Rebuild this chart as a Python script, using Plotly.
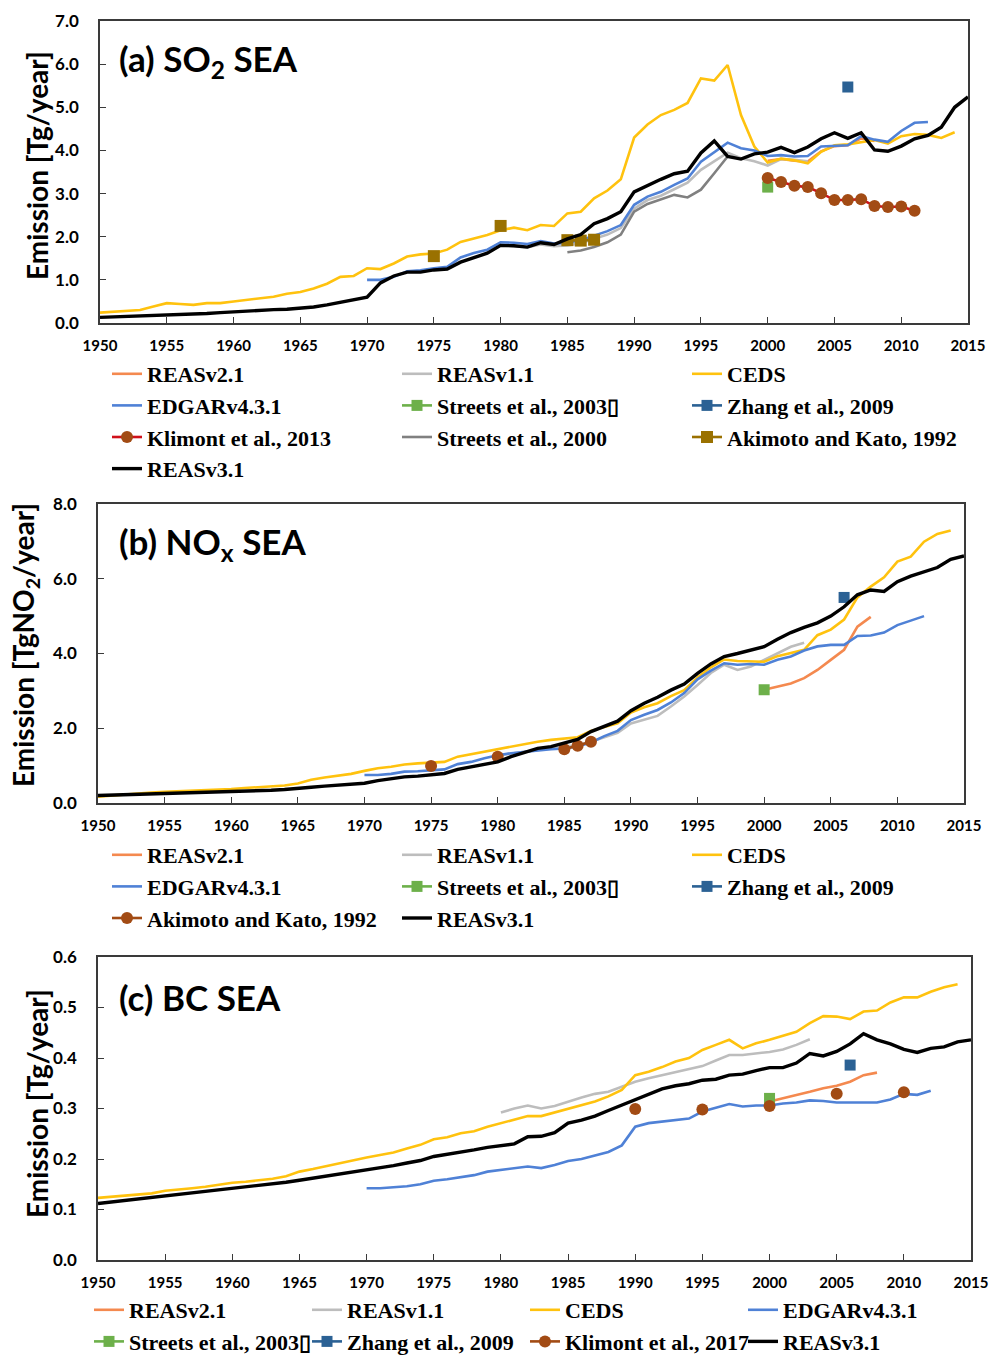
import plotly.graph_objects as go

# ---------------- SO2 (Tg/year) ----------------
REAS3_SO2 = [0.13, 0.14, 0.15, 0.16, 0.17, 0.18, 0.19, 0.21, 0.22, 0.24,
             0.26, 0.28, 0.30, 0.31, 0.32, 0.34, 0.37, 0.42, 0.48, 0.53,
             0.60, 0.93, 1.09, 1.18, 1.18, 1.23, 1.25, 1.41, 1.52, 1.62,
             1.80, 1.79, 1.76, 1.86, 1.82, 1.95, 2.05, 2.30, 2.42, 2.58,
             3.04, 3.19, 3.33, 3.46, 3.52, 3.94, 4.22, 3.86, 3.80, 3.92,
             3.96, 4.07, 3.95, 4.08, 4.27, 4.41, 4.28, 4.41, 4.01, 3.98,
             4.10, 4.27, 4.35, 4.54, 5.00, 5.24]
CEDS_SO2 = [0.24, 0.26, 0.29, 0.30, 0.38, 0.46, 0.44, 0.42, 0.46, 0.46,
            0.50, 0.54, 0.57, 0.61, 0.68, 0.72, 0.80, 0.91, 1.07, 1.09,
            1.27, 1.25, 1.38, 1.54, 1.59, 1.61, 1.70, 1.88, 1.96, 2.04,
            2.15, 2.21, 2.15, 2.27, 2.25, 2.54, 2.58, 2.89, 3.07, 3.33,
            4.30, 4.60, 4.82, 4.94, 5.10, 5.67, 5.62, 5.98, 4.82, 4.09,
            3.72, 3.81, 3.77, 3.70, 3.97, 4.12, 4.14, 4.19, 4.24, 4.16,
            4.33, 4.38, 4.36, 4.29, 4.42]
EDGAR_SO2 = [1.00, 1.00, 1.07, 1.20, 1.22, 1.27, 1.30, 1.52, 1.62, 1.70,
             1.87, 1.86, 1.83, 1.90, 1.84, 1.86, 1.92, 2.02, 2.13, 2.27,
             2.74, 2.93, 3.04, 3.20, 3.35, 3.74, 3.97, 4.18, 4.05, 4.00,
             3.87, 3.89, 3.86, 3.87, 4.09, 4.10, 4.12, 4.33, 4.25, 4.20,
             4.45, 4.64, 4.66]
REAS1_SO2 = [1.80, 1.78, 1.76, 1.82, 1.78, 1.80, 1.85, 1.95, 2.05, 2.20,
             2.65, 2.85, 2.95, 3.10, 3.25, 3.55, 3.75, 3.95, 3.82, 3.75,
             3.65, 3.80, 3.78, 3.75]
REAS2_SO2 = [3.76, 3.80, 3.76, 3.74, 3.98, 4.10, 4.12, 4.28, 4.22]
STREETS2000_SO2 = [1.64, 1.68, 1.76, 1.87, 2.05, 2.58, 2.76, 2.87, 2.97,
                   2.91, 3.09, 3.47, 3.86]
KLIMONT2013_SO2 = [3.36, 3.27, 3.18, 3.15, 3.01, 2.85, 2.85, 2.87, 2.71,
                   2.69, 2.70, 2.60]
STREETS2003_SO2 = ([2000], [3.15])
ZHANG_SO2 = ([2006], [5.47])
AKIMOTO_SO2 = ([1975, 1980, 1985, 1986, 1987], [1.55, 2.25, 1.92, 1.91, 1.93])

# ---------------- NOx (Tg NO2/year) ----------------
REAS3_NOX = [0.20, 0.21, 0.21, 0.22, 0.23, 0.24, 0.25, 0.26, 0.27, 0.28,
             0.30, 0.31, 0.33, 0.34, 0.36, 0.40, 0.42, 0.45, 0.48, 0.50,
             0.53, 0.60, 0.66, 0.70, 0.72, 0.75, 0.79, 0.90, 0.97, 1.02,
             1.10, 1.24, 1.35, 1.46, 1.51, 1.60, 1.70, 1.91, 2.04, 2.19,
             2.47, 2.67, 2.83, 3.02, 3.18, 3.47, 3.72, 3.92, 4.00, 4.09,
             4.18, 4.38, 4.56, 4.70, 4.82, 5.00, 5.25, 5.57, 5.70, 5.66,
             5.92, 6.07, 6.19, 6.30, 6.52, 6.61]
CEDS_NOX = [0.17, 0.20, 0.22, 0.25, 0.28, 0.30, 0.31, 0.33, 0.34, 0.35,
            0.37, 0.40, 0.42, 0.44, 0.47, 0.52, 0.62, 0.68, 0.72, 0.78,
            0.86, 0.93, 0.97, 1.03, 1.06, 1.08, 1.10, 1.24, 1.31, 1.37,
            1.44, 1.51, 1.58, 1.64, 1.69, 1.72, 1.76, 1.93, 2.02, 2.13,
            2.42, 2.56, 2.67, 2.86, 3.02, 3.36, 3.63, 3.84, 3.80, 3.80,
            3.78, 3.93, 4.02, 4.10, 4.49, 4.64, 4.91, 5.50, 5.79, 6.04,
            6.46, 6.59, 6.99, 7.20, 7.29]
EDGAR_NOX = [0.75, 0.75, 0.78, 0.84, 0.85, 0.88, 0.90, 1.04, 1.10, 1.20,
             1.28, 1.33, 1.37, 1.42, 1.44, 1.46, 1.51, 1.62, 1.79, 1.93,
             2.22, 2.36, 2.49, 2.69, 2.94, 3.31, 3.54, 3.74, 3.70, 3.72,
             3.70, 3.83, 3.92, 4.08, 4.19, 4.23, 4.23, 4.47, 4.48, 4.56,
             4.76, 4.88, 5.00]
REAS1_NOX = [1.27, 1.33, 1.37, 1.42, 1.46, 1.50, 1.55, 1.64, 1.75, 1.88,
             2.13, 2.22, 2.33, 2.58, 2.85, 3.16, 3.48, 3.70, 3.56, 3.65,
             3.83, 4.00, 4.18, 4.29]
REAS2_NOX = [3.03, 3.12, 3.20, 3.34, 3.56, 3.83, 4.10, 4.72, 4.98]
STREETS2003_NOX = ([2000], [3.03])
ZHANG_NOX = ([2006], [5.50])
AKIMOTO_NOX = ([1975, 1980, 1985, 1986, 1987], [0.99, 1.24, 1.44, 1.53, 1.64])

# ---------------- BC (Tg/year) ----------------
REAS3_BC = [0.112, 0.115, 0.118, 0.120, 0.123, 0.126, 0.129, 0.132, 0.135, 0.139,
            0.142, 0.145, 0.148, 0.151, 0.154, 0.158, 0.162, 0.166, 0.170, 0.174,
            0.178, 0.183, 0.187, 0.192, 0.197, 0.205, 0.209, 0.213, 0.218, 0.223,
            0.226, 0.230, 0.244, 0.245, 0.252, 0.271, 0.277, 0.285, 0.296, 0.307,
            0.318, 0.329, 0.339, 0.345, 0.349, 0.356, 0.358, 0.366, 0.368, 0.375,
            0.381, 0.381, 0.390, 0.409, 0.404, 0.413, 0.428, 0.448, 0.436, 0.428,
            0.417, 0.411, 0.419, 0.422, 0.432, 0.436]
CEDS_BC = [0.123, 0.125, 0.128, 0.129, 0.132, 0.137, 0.139, 0.142, 0.145, 0.149,
           0.153, 0.155, 0.158, 0.161, 0.166, 0.175, 0.180, 0.186, 0.192, 0.197,
           0.203, 0.208, 0.213, 0.221, 0.228, 0.239, 0.243, 0.251, 0.255, 0.264,
           0.271, 0.277, 0.285, 0.285, 0.292, 0.300, 0.307, 0.314, 0.324, 0.337,
           0.366, 0.373, 0.382, 0.393, 0.400, 0.416, 0.426, 0.436, 0.419, 0.429,
           0.436, 0.444, 0.452, 0.469, 0.483, 0.482, 0.477, 0.492, 0.494, 0.510,
           0.520, 0.520, 0.531, 0.540, 0.546]
EDGAR_BC = [0.142, 0.142, 0.144, 0.146, 0.150, 0.157, 0.160, 0.164, 0.168, 0.175,
            0.178, 0.181, 0.185, 0.182, 0.188, 0.196, 0.200, 0.207, 0.214, 0.227,
            0.264, 0.271, 0.274, 0.277, 0.280, 0.294, 0.302, 0.309, 0.304, 0.306,
            0.306, 0.310, 0.312, 0.316, 0.315, 0.312, 0.312, 0.312, 0.312, 0.318,
            0.329, 0.327, 0.335]
REAS1_BC = [0.292, 0.300, 0.306, 0.300, 0.305, 0.314, 0.322, 0.329, 0.333, 0.343,
            0.353, 0.360, 0.366, 0.373, 0.379, 0.384, 0.395, 0.406, 0.406, 0.409,
            0.412, 0.417, 0.426, 0.437]
REAS2_BC = [0.314, 0.320, 0.327, 0.333, 0.340, 0.345, 0.353, 0.366, 0.371]
STREETS2003_BC = ([2000], [0.320])
ZHANG_BC = ([2006], [0.386])
KLIMONT2017_BC = ([1990, 1995, 2000, 2005, 2010], [0.299, 0.298, 0.305, 0.329, 0.332])

YEAR_TICKS = list(range(1950, 2016, 5))

# ---------------- styles ----------------
C_REAS2 = "#F4894F"
C_REAS1 = "#BDBDBD"
C_CEDS = "#FFC20E"
C_EDGAR = "#4F81D6"
C_STREETS03 = "#6DB04A"
C_ZHANG = "#2B6194"
C_KLIM_LINE = "#D0101A"
C_KLIM_MARK = "#A24B14"
C_STREETS00 = "#808080"
C_AKIMOTO = "#9A7100"
C_REAS3 = "#000000"

W = 991
H = 1358


def span(start, vals):
    return list(range(start, start + len(vals)))


def gapped(years, vals):
    """Break the line wherever consecutive points are not in consecutive years."""
    xs, ys = [], []
    for i, (yr, v) in enumerate(zip(years, vals)):
        if i > 0 and yr - years[i - 1] > 1:
            xs.append(None)
            ys.append(None)
        xs.append(yr)
        ys.append(v)
    return xs, ys


fig = go.Figure()


def line(x, y, name, color, k, width=2.6):
    fig.add_trace(go.Scatter(
        x=x, y=y, name=name, mode="lines",
        line=dict(color=color, width=width),
        xaxis="x" if k == 1 else f"x{k}", yaxis="y" if k == 1 else f"y{k}",
        legend="legend" if k == 1 else f"legend{k}"))


def points(x, y, name, color, k, symbol="square", size=11, line_color=None):
    xs, ys = gapped(x, y)
    fig.add_trace(go.Scatter(
        x=xs, y=ys, name=name, mode="lines+markers",
        line=dict(color=line_color or color, width=2.6),
        marker=dict(symbol=symbol, size=size, color=color),
        xaxis="x" if k == 1 else f"x{k}", yaxis="y" if k == 1 else f"y{k}",
        legend="legend" if k == 1 else f"legend{k}"))


STREETS_NAME = "Streets et al., 2003\u25AF"

# (a) SO2
line(span(2000, REAS2_SO2), REAS2_SO2, "REASv2.1", C_REAS2, 1)
line(span(1980, REAS1_SO2), REAS1_SO2, "REASv1.1", C_REAS1, 1)
line(span(1950, CEDS_SO2), CEDS_SO2, "CEDS", C_CEDS, 1)
line(span(1970, EDGAR_SO2), EDGAR_SO2, "EDGARv4.3.1", C_EDGAR, 1)
points(*STREETS2003_SO2, STREETS_NAME, C_STREETS03, 1)
points(*ZHANG_SO2, "Zhang et al., 2009", C_ZHANG, 1)
points(span(2000, KLIMONT2013_SO2), KLIMONT2013_SO2, "Klimont et al., 2013",
       C_KLIM_MARK, 1, symbol="circle", size=12, line_color=C_KLIM_LINE)
line(span(1985, STREETS2000_SO2), STREETS2000_SO2, "Streets et al., 2000", C_STREETS00, 1)
points(*AKIMOTO_SO2, "Akimoto and Kato, 1992", C_AKIMOTO, 1, size=12)
line(span(1950, REAS3_SO2), REAS3_SO2, "REASv3.1", C_REAS3, 1, width=3.4)

# (b) NOx
line(span(2000, REAS2_NOX), REAS2_NOX, "REASv2.1", C_REAS2, 2)
line(span(1980, REAS1_NOX), REAS1_NOX, "REASv1.1", C_REAS1, 2)
line(span(1950, CEDS_NOX), CEDS_NOX, "CEDS", C_CEDS, 2)
line(span(1970, EDGAR_NOX), EDGAR_NOX, "EDGARv4.3.1", C_EDGAR, 2)
points(*STREETS2003_NOX, STREETS_NAME, C_STREETS03, 2)
points(*ZHANG_NOX, "Zhang et al., 2009", C_ZHANG, 2)
points(*AKIMOTO_NOX, "Akimoto and Kato, 1992", C_KLIM_MARK, 2,
       symbol="circle", size=12)
line(span(1950, REAS3_NOX), REAS3_NOX, "REASv3.1", C_REAS3, 2, width=3.4)

# (c) BC
line(span(2000, REAS2_BC), REAS2_BC, "REASv2.1", C_REAS2, 3)
line(span(1980, REAS1_BC), REAS1_BC, "REASv1.1", C_REAS1, 3)
line(span(1950, CEDS_BC), CEDS_BC, "CEDS", C_CEDS, 3)
line(span(1970, EDGAR_BC), EDGAR_BC, "EDGARv4.3.1", C_EDGAR, 3)
points(*STREETS2003_BC, STREETS_NAME, C_STREETS03, 3)
points(*ZHANG_BC, "Zhang et al., 2009", C_ZHANG, 3)
points(*KLIMONT2017_BC, "Klimont et al., 2017", C_KLIM_MARK, 3,
       symbol="circle", size=12)
line(span(1950, REAS3_BC), REAS3_BC, "REASv3.1", C_REAS3, 3, width=3.4)

# ---------------- axes ----------------
TICK_FONT = dict(family="Lato", size=15, color="black", weight="bold")
YTICK_FONT = dict(family="Lato", size=17, color="black", weight="bold")
AX_LINE = dict(showline=True, linecolor="#3a3a3a", linewidth=1.6, mirror=True,
               showgrid=False, zeroline=False, ticks="inside", ticklen=6,
               tickcolor="#3a3a3a", tickwidth=1.4, automargin=False)


def px_x(p):
    return p / W


def px_y(p):
    return 1 - p / H


panels = [
    # x0, x1, ytop, ybottom, yrange, dtick
    (100, 968, 21, 323, [0, 7], 1.0),
    (98, 964, 504, 803, [0, 8], 2.0),
    (98, 971, 957, 1260, [0, 0.6], 0.1),
]

layout_axes = {}
for i, (x0, x1, yt, yb, yr, dt) in enumerate(panels, start=1):
    sx = "" if i == 1 else str(i)
    layout_axes[f"xaxis{sx}"] = dict(
        domain=[px_x(x0), px_x(x1)], range=[1950, 2015], anchor=f"y{sx}",
        tickvals=YEAR_TICKS, tickfont=TICK_FONT, ticklabelstandoff=8, **AX_LINE)
    layout_axes[f"yaxis{sx}"] = dict(
        domain=[px_y(yb), px_y(yt)], range=yr, anchor=f"x{sx}", dtick=dt,
        tick0=0, tickformat=".1f", tickfont=YTICK_FONT, ticklabelstandoff=16,
        **AX_LINE)

LEG_FONT = dict(family="Liberation Serif", size=22, color="black", weight="bold")


def legend_cfg(x, ytop, entry):
    return dict(orientation="h", x=px_x(x), y=px_y(ytop), xanchor="left",
                yanchor="top", font=LEG_FONT, entrywidth=entry,
                entrywidthmode="pixels", bgcolor="rgba(0,0,0,0)",
                tracegroupgap=0, itemwidth=30)


TITLE_FONT = dict(family="Lato", size=35, color="black", weight="bold")
YT_FONT = dict(family="Lato", size=28, color="black", weight="bold")

annotations = [
    dict(text="(a) SO<sub>2</sub> SEA", x=px_x(117), y=px_y(61)),
    dict(text="(b) NO<sub>x</sub> SEA", x=px_x(117), y=px_y(543)),
    dict(text="(c) BC SEA", x=px_x(117), y=px_y(997)),
]
for a in annotations:
    a.update(xref="paper", yref="paper", xanchor="left", yanchor="middle",
             showarrow=False, font=TITLE_FONT)

ytitles = [
    dict(text="Emission [Tg/year]", x=px_x(37), y=px_y(166)),
    dict(text="Emission [TgNO<sub>2</sub>/year]", x=px_x(25), y=px_y(645)),
    dict(text="Emission [Tg/year]", x=px_x(37), y=px_y(1104)),
]
for a in ytitles:
    a.update(xref="paper", yref="paper", xanchor="center", yanchor="middle",
             showarrow=False, textangle=-90, font=YT_FONT)

fig.update_layout(
    width=W, height=H,
    margin=dict(l=0, r=0, t=0, b=0, autoexpand=False),
    paper_bgcolor="white", plot_bgcolor="white",
    showlegend=True,
    legend=legend_cfg(107, 353, 245),
    legend2=legend_cfg(107, 834, 245),
    legend3=legend_cfg(89, 1289, 173),
    annotations=annotations + ytitles,
    **layout_axes,
)

fig.write_html("out.html")
